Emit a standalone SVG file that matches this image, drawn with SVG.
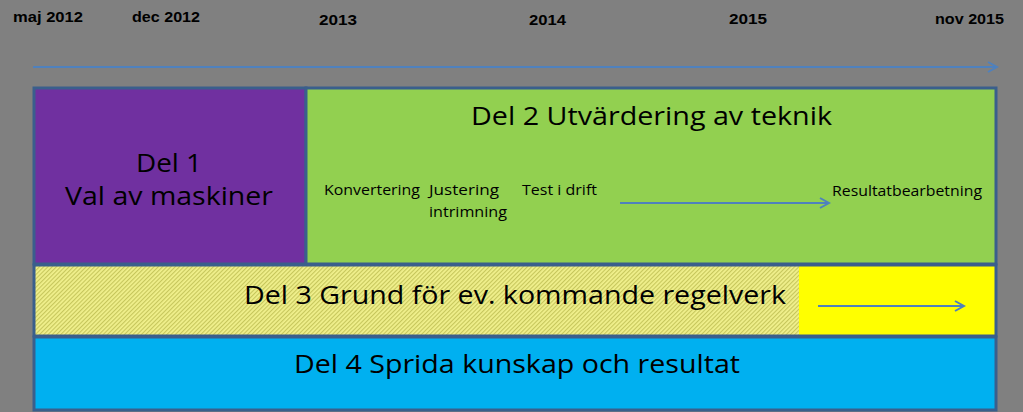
<svg xmlns="http://www.w3.org/2000/svg" width="1023" height="412" viewBox="0 0 1023 412">
<style>
.yr{font-family:"Liberation Sans",Arial,sans-serif;font-weight:bold;font-size:15px;fill:#000}
.big{font-family:"Open Sans","Noto Sans",sans-serif;font-size:26px;fill:#000}
.sm{font-family:"Open Sans","Noto Sans",sans-serif;font-size:14px;fill:#000}
.box{stroke:#3a5f8c;stroke-width:3}
.arr{stroke:#4f81bd;stroke-width:2;fill:none}
</style>
<defs>
<pattern id="hatch" width="3" height="3" patternUnits="userSpaceOnUse" patternTransform="rotate(-45)">
<rect width="3" height="3" fill="#f0f08c"/>
<rect width="3" height="1.1" fill="#c6c65c"/>
</pattern>
<marker id="head" markerWidth="12" markerHeight="12" refX="10" refY="6" orient="auto" markerUnits="userSpaceOnUse">
<path d="M1,1 L10,6 L1,11" fill="none" stroke="#4f81bd" stroke-width="2"/>
</marker>
</defs>
<rect width="1023" height="412" fill="#808080"/>
<g id="timeline-labels">
<text class="yr" x="13" y="22" textLength="70" lengthAdjust="spacingAndGlyphs">maj 2012</text>
<text class="yr" x="132" y="22" textLength="68" lengthAdjust="spacingAndGlyphs">dec 2012</text>
<text class="yr" x="319" y="25" textLength="38" lengthAdjust="spacingAndGlyphs">2013</text>
<text class="yr" x="529" y="25" textLength="37" lengthAdjust="spacingAndGlyphs">2014</text>
<text class="yr" x="729" y="24" textLength="38" lengthAdjust="spacingAndGlyphs">2015</text>
<text class="yr" x="935" y="24" textLength="69" lengthAdjust="spacingAndGlyphs">nov 2015</text>
</g>
<g id="del1">
<rect class="box" x="34" y="88" width="272" height="176" fill="#7030a0"/>
<text class="big" x="169" y="172" text-anchor="middle" font-size="25" textLength="66" lengthAdjust="spacingAndGlyphs">Del 1</text>
<text class="big" x="169" y="205" text-anchor="middle" font-size="25" textLength="208" lengthAdjust="spacingAndGlyphs">Val av maskiner</text>
</g>
<g id="del2">
<rect class="box" x="306" y="88" width="690" height="176" fill="#92d050"/>
<text class="big" x="471" y="125" textLength="361" lengthAdjust="spacingAndGlyphs">Del 2 Utvärdering av teknik</text>
<text class="sm" x="324" y="195" textLength="96" lengthAdjust="spacingAndGlyphs">Konvertering</text>
<text class="sm" x="429" y="195" textLength="70" lengthAdjust="spacingAndGlyphs">Justering</text>
<text class="sm" x="429" y="217" textLength="78" lengthAdjust="spacingAndGlyphs">intrimning</text>
<text class="sm" x="522" y="195" textLength="75" lengthAdjust="spacingAndGlyphs">Test i drift</text>
<text class="sm" x="832" y="196" textLength="150" lengthAdjust="spacingAndGlyphs">Resultatbearbetning</text>
</g>
<g id="del3">
<rect x="34" y="265" width="765" height="71" fill="url(#hatch)"/>
<rect x="799" y="265" width="197" height="71" fill="#ffff00"/>
<rect class="box" x="34" y="265" width="962" height="71" fill="none"/>
<text class="big" x="244" y="304" textLength="542" lengthAdjust="spacingAndGlyphs">Del 3 Grund för ev. kommande regelverk</text>
</g>
<g id="del4">
<rect class="box" x="34" y="337" width="962" height="73" fill="#00b0f0"/>
<text class="big" x="294" y="373" textLength="446" lengthAdjust="spacingAndGlyphs">Del 4 Sprida kunskap och resultat</text>
</g>
<g id="connectors">
<line class="arr" x1="33" y1="67" x2="997" y2="67" marker-end="url(#head)"/>
<line class="arr" x1="620" y1="203" x2="829" y2="203" marker-end="url(#head)"/>
<line class="arr" x1="818" y1="306" x2="964" y2="306" marker-end="url(#head)"/>
</g>
</svg>
